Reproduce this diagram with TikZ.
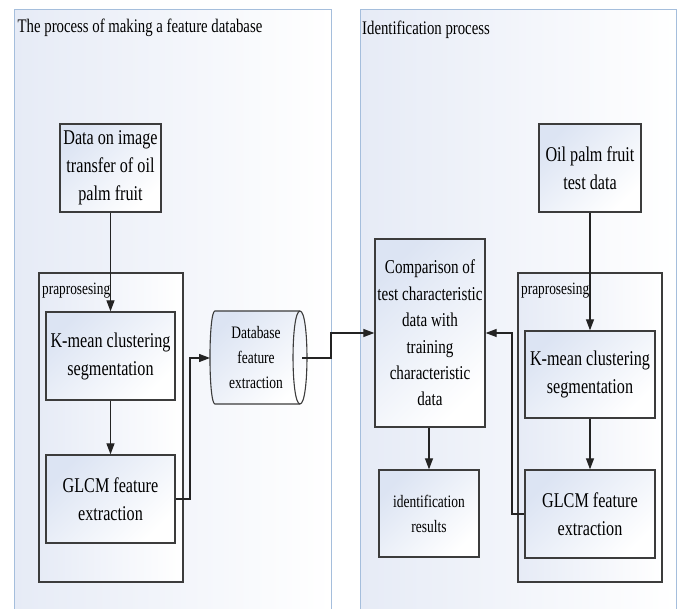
\documentclass[tikz,border=0pt]{standalone}
\usepackage{fontspec}
\setmainfont{Liberation Serif}[FakeStretch=0.77]
\usetikzlibrary{arrows.meta}
\definecolor{panelline}{RGB}{165,190,220}
\definecolor{panelfill}{RGB}{230,235,246}
\definecolor{boxfill}{RGB}{220,228,243}
\definecolor{boxline}{RGB}{60,60,60}
\definecolor{conn}{RGB}{35,35,35}
\begin{document}
\begin{tikzpicture}[x=1pt,y=-1pt,
  panel/.style={left color=panelfill, right color=white},
  panelborder/.style={draw=panelline, line width=1pt},
  procbox/.style={draw=boxline, line width=1.3pt, top color=boxfill, bottom color=white, shading angle=45, align=center, inner sep=0pt},
  prepbox/.style={draw=boxline, line width=1.3pt, left color=panelfill, right color=white, inner sep=0pt},
  bigtext/.style={font=\fontsize{21}{28}\selectfont},
  midtext/.style={font=\fontsize{19.6}{26.4}\selectfont},
  smalltext/.style={font=\fontsize{17.5}{25}\selectfont},
  titletext/.style={font=\fontsize{19.2}{23}\selectfont, inner sep=0pt, anchor=base west},
  preptext/.style={font=\fontsize{17.3}{20}\selectfont, inner sep=0pt, anchor=base west},
  conn/.style={draw=conn, line width=1.2pt, -{Triangle[length=11pt,width=8pt]}},
]
\useasboundingbox (0,0) rectangle (678,609);
% panels
\shade[panel] (14,10) rectangle (331,620);
\draw[panelborder] (14,620) -- (14,10) -- (331,10) -- (331,620);
\shade[panel] (360,10) rectangle (676,620);
\draw[panelborder] (360,620) -- (360,10) -- (676,10) -- (676,620);
\node[titletext] (t1) at (17.5,33) {The process of making a feature database};
\node[titletext] (t2) at (362,34.5) {Identification process};

% preprocessing frames
\node[prepbox, minimum width=144pt, minimum height=309pt] (prepL) at (111,427.5) {};
\node[prepbox, minimum width=144pt, minimum height=309pt] (prepR) at (590,427.5) {};
\node[preptext] (pl1) at (42,295) {praprosesing};
\node[preptext] (pl2) at (521,295) {praprosesing};

% left boxes
\node[procbox, bigtext, minimum width=101pt, minimum height=88pt] (data) at (110.5,168) {Data on image\\transfer of oil\\palm fruit};
\node[procbox, bigtext, minimum width=129pt, minimum height=88pt] (kmL) at (110.5,356) {K-mean clustering\\segmentation};
\node[procbox, bigtext, minimum width=129pt, minimum height=88pt] (glL) at (110.5,499) {GLCM feature\\extraction};

% cylinder
\shade[top color=boxfill, bottom color=white, shading angle=45]
  (215,311) -- (300,311) .. controls (309.3,311) and (309.3,404) .. (300,404)
  -- (215,404) .. controls (208.3,404) and (208.3,311) .. (215,311) -- cycle;
\draw[boxline, line width=1.1pt]
  (215,311) -- (300,311) .. controls (309.3,311) and (309.3,404) .. (300,404)
  -- (215,404) .. controls (208.3,404) and (208.3,311) .. (215,311) -- cycle;
\draw[boxline, line width=1.1pt] (300,311) .. controls (290.7,311) and (290.7,404) .. (300,404);
\node[smalltext, align=center, inner sep=0pt] (db) at (256,357.5) {Database\\feature\\extraction};
\coordinate (dbin) at (210,358);
\coordinate (dbout) at (302,358);

% right boxes
\node[procbox, bigtext, minimum width=102pt, minimum height=88pt] (oil) at (590,168) {Oil palm fruit\\test data};
\node[procbox, bigtext, minimum width=130pt, minimum height=87pt] (kmR) at (590,374.5) {K-mean clustering\\segmentation};
\node[procbox, bigtext, minimum width=130pt, minimum height=88pt] (glR) at (590,514) {GLCM feature\\extraction};
\node[procbox, midtext, minimum width=110pt, minimum height=188pt] (comp) at (430,333) {Comparison of\\test characteristic\\data with\\training\\characteristic\\data};
\node[procbox, smalltext, minimum width=100pt, minimum height=87pt] (res) at (429,513.5) {identification\\results};

% connectors
\draw[conn] (data.south) -- (kmL.north);
\draw[conn] (kmL.south) -- (glL.north);
\draw[conn] (glL.east) -- (190,499) -- (190,358) -- (dbin);
\draw[conn] (dbout) -- (331,358) -- (331,333) -- (comp.west);
\draw[conn] (oil.south) -- (kmR.north);
\draw[conn] (kmR.south) -- (glR.north);
\draw[conn] (glR.west) -- (512,514) -- (512,333) -- (comp.east);
\draw[conn] (comp.south -| res.north) -- (res.north);
\end{tikzpicture}
\end{document}
